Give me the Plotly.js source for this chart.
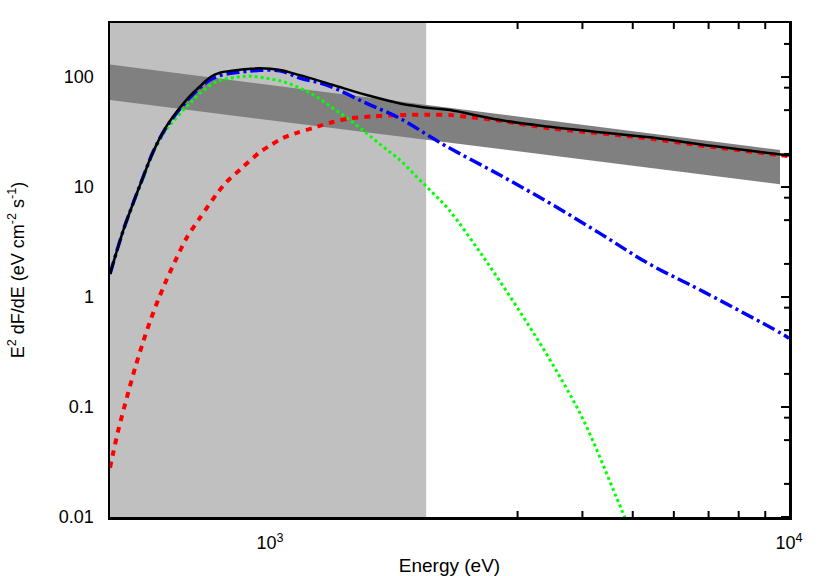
<!DOCTYPE html>
<html><head><meta charset="utf-8">
<script src="https://cdn.plot.ly/plotly-3.0.1.min.js"></script>
<style>html,body{margin:0;padding:0;background:#fff}</style>
</head><body><div id="chart" style="width:822px;height:576px"></div>
<script>
// ---- data (energy in eV, E^2 dF/dE in eV cm^-2 s^-1) ----
const xMinEV = 492, xMaxEV = 10000;
const yMinF = 0.01, yMaxF = 310;
const shadeEV = [492, 2000];

const bandE = [492, 9610];
const bandUpper = [130, 21.7];
const bandLower = [61.8, 10.6];

const totalE = [492, 522, 545, 570, 596, 628, 661, 701, 733, 750, 766, 783, 801, 819, 850, 875, 910, 957, 1045, 1142, 1323, 1536, 1780, 2061, 2223, 2774, 3464, 4868, 5398, 7139, 10000];
const totalF = [1.62, 4.06, 7.11, 12.4, 21, 34, 48, 67, 82, 91, 99, 105, 109.5, 112, 114.5, 116.5, 118.5, 120, 116, 104, 84.6, 68.6, 57.6, 51.9, 50.1, 40.6, 35.3, 29.7, 28.3, 23.6, 19.3];

const plE = [492, 499, 510, 523, 537, 552, 569, 587, 609, 632, 661, 691, 733, 795, 825, 887, 957, 1000, 1059, 1132, 1210, 1323, 1426, 1594, 1780, 2000, 2223, 2393, 2774, 3464, 5004, 7139, 9610, 10000];
const plF = [0.028, 0.0382, 0.0605, 0.0959, 0.152, 0.241, 0.382, 0.593, 0.939, 1.43, 2.26, 3.44, 5.23, 9.01, 11.1, 15.2, 20.8, 23.8, 27.9, 31.3, 34.4, 39.0, 42.1, 44.0, 45.1, 45.5, 45.1, 43.6, 40.1, 34.2, 28.7, 23.1, 19.5, 19.1];

const blueE = [492, 522, 545, 570, 596, 628, 661, 701, 733, 766, 801, 850, 895, 957, 1045, 1142, 1286, 1536, 1780, 2061, 2223, 2774, 3464, 4323, 5357, 6838, 9899, 10000];
const blueF = [1.62, 4.06, 7.11, 12.4, 21, 33.5, 47, 65, 80, 94, 103, 109, 112, 115, 114, 98, 84.6, 57.6, 42.1, 27.7, 22.5, 12.85, 7.11, 3.79, 2.02, 1.12, 0.436, 0.42];

const greenE = [492, 522, 545, 570, 596, 628, 661, 701, 733, 789, 850, 915, 985, 1061, 1142, 1230, 1324, 1426, 1536, 1653, 1780, 1917, 2064, 2213, 2576, 2988, 3464, 4016, 4656, 4808, 5000];
const greenF = [1.62, 4.0, 7.0, 12.0, 20.5, 32, 43, 57.5, 71, 90.7, 98.7, 101.9, 97.3, 90.7, 79.2, 66.1, 51.9, 40.6, 30.8, 23.2, 17.6, 12.4, 8.76, 6.2, 2.32, 0.816, 0.268, 0.0762, 0.0149, 0.0104, 0.0069];

const xTickVals = [1000, 10000];
const xTickText = ['10<sup>3</sup>', '10<sup>4</sup>'];
const xMinorVals = [3000, 4000, 5000, 6000, 7000, 8000, 9000];
const yTickVals = [0.01, 0.1, 1, 10, 100];
const yTickText = ['0.01', '0.1', '1', '10', '100'];
const yMinorVals = [0.02, 0.05, 0.08, 0.2, 0.5, 0.8, 2, 5, 8, 20, 50, 80, 200];

// ---- traces ----
const traces = [
  {x: [shadeEV[0], shadeEV[1], shadeEV[1], shadeEV[0]], y: [yMinF, yMinF, yMaxF, yMaxF],
   fill: 'toself', fillcolor: '#c0c0c0', mode: 'lines', line: {width: 0}, hoverinfo: 'skip'},
  {x: bandE, y: bandLower, mode: 'lines', line: {width: 0, color: '#808080'}},
  {x: bandE, y: bandUpper, mode: 'lines', line: {width: 0, color: '#808080'}, fill: 'tonexty', fillcolor: '#808080'},
  {x: greenE, y: greenF, mode: 'lines', line: {color: '#00ff00', width: 3, dash: '3px,3px', shape: 'spline', smoothing: 1}},
  {x: plE, y: plF, mode: 'lines', line: {color: '#ff0000', width: 4, dash: '6px,6px', shape: 'spline', smoothing: 0.8}},
  {x: blueE, y: blueF, mode: 'lines', line: {color: '#0000ff', width: 3.5, dash: '13px,4px,3px,4px', shape: 'spline', smoothing: 1}},
  {x: totalE, y: totalF, mode: 'lines', line: {color: '#000000', width: 2.5, shape: 'spline', smoothing: 1}}
];

// ---- tick marks drawn as pixel-sized shapes at the tick values (white area only) ----
const tickShapes = [];
xMinorVals.forEach(v => {
  tickShapes.push({type: 'line', xref: 'x', yref: 'paper', ysizemode: 'pixel', yanchor: 0, y0: 0, y1: 6, x0: v, x1: v, line: {color: '#000', width: 2}});
  tickShapes.push({type: 'line', xref: 'x', yref: 'paper', ysizemode: 'pixel', yanchor: 1, y0: 0, y1: -6, x0: v, x1: v, line: {color: '#000', width: 2}});
});
yTickVals.forEach(v => {
  tickShapes.push({type: 'line', xref: 'paper', yref: 'y', xsizemode: 'pixel', xanchor: 1, x0: -8, x1: 0, y0: v, y1: v, line: {color: '#000', width: 2}});
});
yMinorVals.forEach(v => {
  tickShapes.push({type: 'line', xref: 'paper', yref: 'y', xsizemode: 'pixel', xanchor: 1, x0: -5, x1: 0, y0: v, y1: v, line: {color: '#000', width: 2}});
});

const fontFam = 'Liberation Sans, Arial, sans-serif';
const xRange = [Math.log10(xMinEV), Math.log10(xMaxEV)];
const yRange = [Math.log10(yMinF), Math.log10(yMaxF)];

const layout = {
  width: 822, height: 576,
  margin: {l: 110, r: 33, t: 23, b: 59},
  paper_bgcolor: '#ffffff', plot_bgcolor: '#ffffff',
  showlegend: false,
  font: {family: fontFam, size: 18, color: '#000'},
  xaxis: {
    type: 'log', range: xRange,
    tickmode: 'array', tickvals: xTickVals, ticktext: xTickText,
    ticks: '', ticklabelstandoff: 8,
    showline: true, linecolor: '#000', linewidth: 2.5, mirror: true,
    showgrid: false, zeroline: false,
    tickfont: {family: fontFam, size: 18, color: '#000'},
    title: {text: 'Energy (eV)', font: {family: fontFam, size: 19, color: '#000'}, standoff: 14},
    automargin: false
  },
  yaxis: {
    type: 'log', range: yRange,
    tickmode: 'array', tickvals: yTickVals, ticktext: yTickText,
    ticks: '', ticklabelstandoff: 10,
    showline: true, linecolor: '#000', linewidth: 2.5, mirror: true,
    showgrid: false, zeroline: false,
    tickfont: {family: fontFam, size: 18, color: '#000'},
    title: {text: 'E<sup>2</sup> dF/dE (eV cm<sup>-2</sup> s<sup>-1</sup>)', font: {family: fontFam, size: 18, color: '#000'}, standoff: 30},
    automargin: false
  },
  shapes: tickShapes
};

Plotly.newPlot('chart', traces, layout, {staticPlot: true, displayModeBar: false});
</script>
</body></html>
